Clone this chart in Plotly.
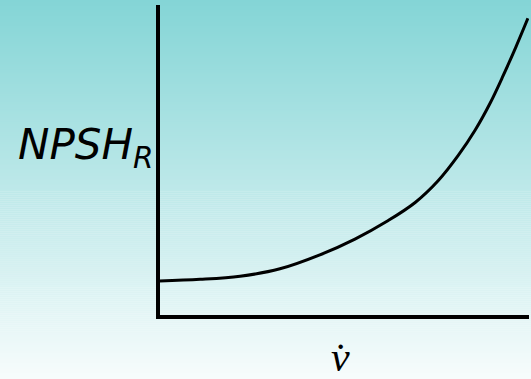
import plotly.graph_objects as go

# Required net positive suction head versus volumetric flow rate (arbitrary units)
flow = [0.0, 0.110, 0.218, 0.326, 0.434, 0.529, 0.618, 0.692,
        0.754, 0.808, 0.854, 0.895, 0.930, 0.965, 0.997]
npsh_r = [0.110, 0.115, 0.125, 0.149, 0.194, 0.245, 0.304, 0.363,
          0.433, 0.514, 0.596, 0.684, 0.772, 0.866, 0.957]

y_label = "<i>NPSH<sub>R</sub></i>"
x_label = "<i>v\u0307</i>"

W, H = 531, 379

# vertical background gradient: teal at the top fading to near white
top_rgb = (132, 213, 214)
bot_rgb = (247, 252, 252)
n_bands = 190
shapes = []
for i in range(n_bands):
    t = i / (n_bands - 1)
    r, g, b = (round(a + (c - a) * t) for a, c in zip(top_rgb, bot_rgb))
    y1 = 1 - i / n_bands
    y0 = 1 - (i + 1) / n_bands
    shapes.append(dict(type="rect", xref="paper", yref="paper",
                       x0=0, x1=1, y0=y0 - 0.001, y1=y1,
                       line=dict(width=0), fillcolor=f"rgb({r},{g},{b})",
                       layer="below"))

fig = go.Figure()
fig.add_trace(go.Scatter(x=flow, y=npsh_r, mode="lines",
                         line=dict(color="black", width=3, shape="spline",
                                   smoothing=1.0),
                         hoverinfo="skip", showlegend=False))

fig.update_layout(
    width=W, height=H,
    margin=dict(l=0, r=0, t=0, b=0),
    paper_bgcolor="rgba(0,0,0,0)",
    plot_bgcolor="rgba(0,0,0,0)",
    shapes=shapes,
    xaxis=dict(domain=[159.5 / W, 529 / W], range=[0, 1],
               showline=True, linewidth=4, linecolor="black",
               showgrid=False, zeroline=False, showticklabels=False,
               ticks=""),
    yaxis=dict(domain=[(H - 315) / H, (H - 5) / H], range=[0, 1],
               showline=True, linewidth=4, linecolor="black",
               showgrid=False, zeroline=False, showticklabels=False,
               ticks=""),
    annotations=[
        dict(text=y_label, xref="paper", yref="paper",
             x=16 / W, y=1 - 148 / H, xanchor="left", yanchor="middle",
             showarrow=False,
             font=dict(family="DejaVu Sans", size=42, color="black")),
        dict(text=x_label, xref="paper", yref="paper",
             x=340 / W, y=0, xanchor="center", yanchor="bottom",
             yshift=-3, showarrow=False,
             font=dict(family="Liberation Serif", size=42, color="black")),
    ],
)

fig.write_html("out.html")
